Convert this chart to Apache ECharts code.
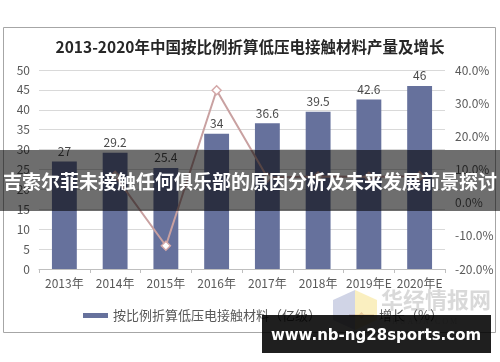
<!DOCTYPE html>
<html>
<head>
<meta charset="utf-8">
<script src="https://cdn.jsdelivr.net/npm/echarts@6/dist/echarts.min.js"></script>
<style>html,body{margin:0;padding:0;background:#fff;}#c{width:500px;height:362px;}</style>
</head>
<body>
<div id="c"></div>
<script>
var categories = ['2013年','2014年','2015年','2016年','2017年','2018年','2019年E','2020年E'];
var outputValues = [27, 29.2, 25.4, 34, 36.6, 39.5, 42.6, 46];
var growthValues = [null, 8.1, -13.0, 33.9, 7.6, 7.9, 7.8, 8.0];
var leftTicks = {min: 0, max: 50, interval: 5};
var rightTicks = {min: -20, max: 40, interval: 10};

var chart = echarts.init(document.getElementById('c'));
var font = '"Noto Sans CJK SC", "Liberation Sans", sans-serif';
chart.setOption({
  animation: false,
  backgroundColor: '#fff',
  textStyle: {fontFamily: font},
  title: {
    text: '2013-2020年中国按比例折算低压电接触材料产量及增长',
    left: 'center', top: 34,
    textStyle: {fontSize: 15.5, fontWeight: 'bold', color: '#262626', fontFamily: font}
  },
  grid: {left: 39, right: 55, top: 70, bottom: 93},
  legend: {
    left: 78, top: 304,
    itemGap: 27,
    itemWidth: 25, itemHeight: 5,
    textStyle: {fontSize: 13, color: '#595959', fontFamily: font},
    data: [
      {name: '按比例折算低压电接触材料（亿级）', icon: 'rect'},
      {name: '增长（%）'}
    ]
  },
  xAxis: {
    type: 'category',
    data: categories,
    axisLine: {lineStyle: {color: '#bfbfbf'}},
    axisTick: {show: true, length: 4, lineStyle: {color: '#bfbfbf'}},
    axisLabel: {color: '#595959', fontSize: 12, margin: 8, interval: 0}
  },
  yAxis: [
    {
      type: 'value', min: leftTicks.min, max: leftTicks.max, interval: leftTicks.interval,
      axisLine: {show: false}, axisTick: {show: false},
      splitLine: {lineStyle: {color: '#d9d9d9'}},
      axisLabel: {color: '#595959', fontSize: 12, margin: 9}
    },
    {
      type: 'value', min: rightTicks.min, max: rightTicks.max, interval: rightTicks.interval,
      axisLine: {show: false}, axisTick: {show: false},
      splitLine: {show: false},
      axisLabel: {color: '#595959', fontSize: 12, margin: 10, formatter: function(v){return v.toFixed(1) + '%';}}
    }
  ],
  series: [
    {
      name: '按比例折算低压电接触材料（亿级）',
      type: 'bar',
      data: outputValues,
      barWidth: '49%',
      itemStyle: {color: '#66719c'},
      label: {show: true, position: 'top', color: '#4a4a4a', fontSize: 12, distance: 4}
    },
    {
      name: '增长（%）',
      type: 'line',
      yAxisIndex: 1,
      data: growthValues,
      connectNulls: false,
      symbol: 'diamond',
      symbolSize: 9,
      lineStyle: {color: '#c9a1a1', width: 2},
      itemStyle: {color: '#ffffff', borderColor: '#d4a8a8', borderWidth: 1.5},
      z: 3
    }
  ],
  graphic: [
    {type: 'rect', shape: {x: 3.5, y: 27.5, width: 492, height: 305}, style: {fill: 'none', stroke: '#a6a6a6', lineWidth: 1}, z: 1, silent: true},
    {type: 'polygon', shape: {points: [[333,300],[355,290],[355,330],[333,320]]}, style: {fill: 'rgba(150,160,200,0.45)'}, z: 50},
    {type: 'polygon', shape: {points: [[355,290],[377,300],[377,320],[355,330]]}, style: {fill: 'rgba(245,225,140,0.55)'}, z: 50},
    {type: 'text', left: 381, top: 289, style: {text: '华经情报网', fill: 'rgba(180,180,180,0.5)', font: 'bold 22px "Noto Sans CJK SC"'}, z: 50},
    {type: 'text', left: 392, top: 318, style: {text: 'H U A O N . C O M', fill: 'rgba(180,180,180,0.5)', font: '8px "Liberation Serif"'}, z: 50},
    {type: 'rect', shape: {x: 0, y: 150, width: 500, height: 61}, style: {fill: 'rgba(0,0,0,0.57)'}, z: 100},
    {type: 'text', x: 250, y: 182, style: {text: '吉索尔菲未接触任何俱乐部的原因分析及未来发展前景探讨', fill: '#ffffff', font: 'bold 19px "Noto Sans CJK SC"', align: 'center', verticalAlign: 'middle'}, z: 101},
    {type: 'rect', shape: {x: 262, y: 315, width: 229, height: 38}, style: {fill: 'rgba(0,0,0,0.88)'}, z: 100},
    {type: 'text', x: 376, y: 336, style: {text: 'www.nb-ng28sports.com', fill: '#ffffff', font: 'bold 15px "DejaVu Sans"', align: 'center', verticalAlign: 'middle'}, z: 101}
  ]
});
</script>
</body>
</html>
